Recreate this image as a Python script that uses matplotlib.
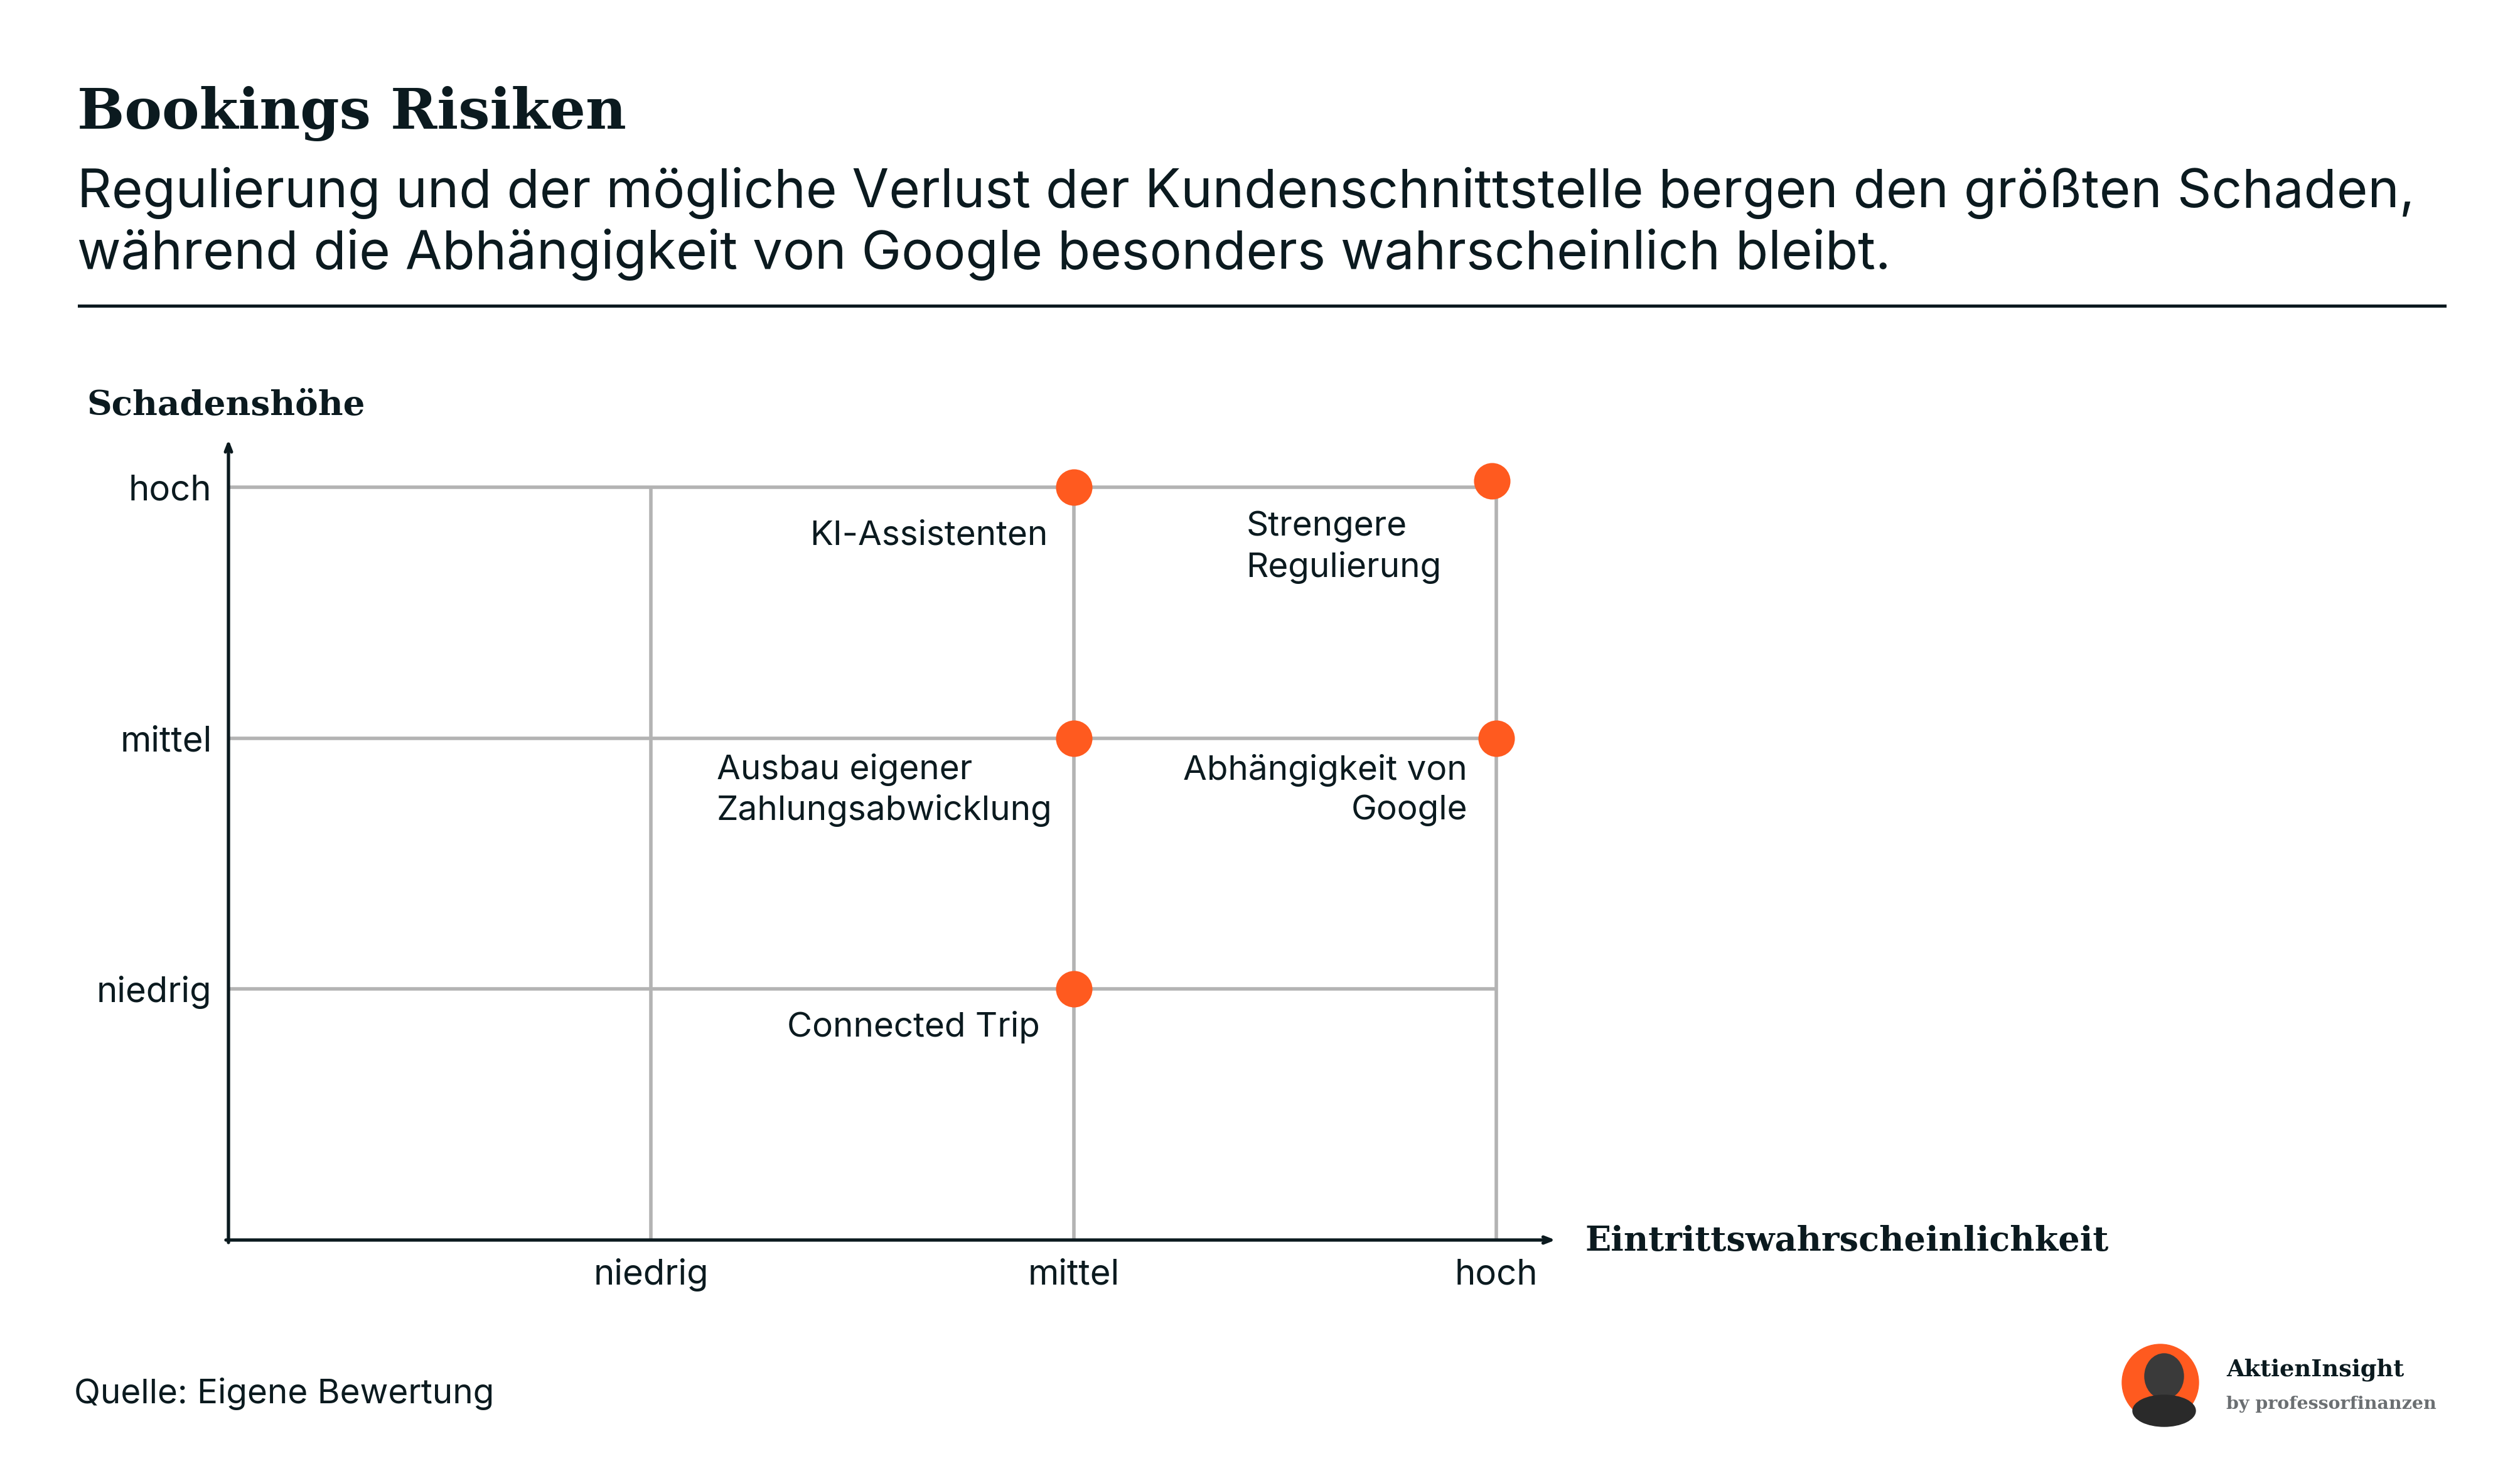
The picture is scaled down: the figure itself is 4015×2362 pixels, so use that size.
import matplotlib
matplotlib.use('Agg')
import matplotlib.pyplot as plt
from matplotlib.patches import Ellipse

# Daten
titel = 'Bookings Risiken'
untertitel = ['Regulierung und der mögliche Verlust der Kundenschnittstelle bergen den größten Schaden,',
              'während die Abhängigkeit von Google besonders wahrscheinlich bleibt.']
stufen = ['niedrig', 'mittel', 'hoch']
risiken = ['KI-Assistenten', 'Strengere\nRegulierung', 'Ausbau eigener\nZahlungsabwicklung',
           'Abhängigkeit von\nGoogle', 'Connected Trip']
wahrscheinlichkeit = [2, 2.99, 2, 3, 2]   # x: Eintrittswahrscheinlichkeit
schaden = [3, 3.025, 2, 2, 1]             # y: Schadenshöhe
quelle = 'Quelle: Eigene Bewertung'

# Farben / Schriften
TXT = '#0b1a1f'
GRAU = '#b3b3b3'
ORANGE = '#ff5a1f'
SANS = 'Inter'
SLAB = 'DejaVu Serif'

W, H = 4016, 2362
fig = plt.figure(figsize=(W / 100, H / 100), dpi=100)
fig.patch.set_facecolor('white')
renderer = fig.canvas.get_renderer()

def px(x, y):
    # Pixel (von oben links) -> Figurenkoordinaten
    return x / W, 1 - y / H

def auf_breite(t, breite):
    # Schriftgroesse so setzen, dass der Text die Breite im Original hat
    w = t.get_window_extent(renderer).width
    t.set_fontsize(t.get_fontsize() * breite / w)

# Kopf
t = fig.text(*px(123, 205), titel, family=SLAB, weight='bold', fontsize=64, color=TXT, va='baseline')
auf_breite(t, 876)
t1 = fig.text(*px(123, 330), untertitel[0], family=SANS, fontsize=58, color=TXT, va='baseline')
auf_breite(t1, 3724)
fig.text(*px(123, 428), untertitel[1], family=SANS, fontsize=t1.get_fontsize(), color=TXT, va='baseline')
fig.add_artist(plt.Line2D([126 / W, 3895 / W], [1 - 487 / H] * 2, color=TXT, lw=3.6))

# Achsen: 0..3 in beiden Richtungen
x0, x3 = 364, 2384
y0, y3 = 1975, 776
ax = fig.add_axes([x0 / W, 1 - y0 / H, (x3 - x0) / W, (y0 - y3) / H])
ax.set_xlim(0, 3)
ax.set_ylim(0, 3)
for s in ax.spines.values():
    s.set_visible(False)

lv = [1, 2, 3]
ax.hlines(lv, 0, 3, color=GRAU, lw=4, zorder=1, clip_on=False)
ax.vlines(lv, 0, 3, color=GRAU, lw=4, zorder=1, clip_on=False)

pfeil = dict(arrowstyle='->,head_length=0.9,head_width=0.35', color=TXT, lw=3.8,
             shrinkA=0, shrinkB=0)
ax.annotate('', xy=(3.14, 0), xytext=(-0.006, 0), annotation_clip=False, arrowprops=pfeil, zorder=3)
ax.annotate('', xy=(0, 3.19), xytext=(0, -0.01), annotation_clip=False, arrowprops=pfeil, zorder=3)

ax.set_xticks(lv)
ax.set_xticklabels(stufen)
ax.set_yticks(lv)
ax.set_yticklabels(stufen)
ax.tick_params(length=0, labelsize=40.5, labelcolor=TXT)
ax.tick_params(axis='y', pad=19)
ax.tick_params(axis='x', pad=21)
for lab in ax.get_xticklabels() + ax.get_yticklabels():
    lab.set_family(SANS)

fig.text(*px(138, 661), 'Schadenshöhe', family=SLAB, weight='bold', fontsize=39.5, color=TXT, va='baseline')
fig.text(*px(2525, 1977), 'Eintrittswahrscheinlichkeit', family=SLAB, weight='bold', fontsize=39,
         color=TXT, va='center')

# Punkte
ax.scatter(wahrscheinlichkeit, schaden, s=1750, color=ORANGE, zorder=5, clip_on=False, linewidths=0)

# Beschriftungen (Versatz in Pixeln zum Punkt)
versatz = [(-41, -77, 'right'), (-392, -106, 'left'), (-569, -83, 'left'),
           (-46, -83, 'right'), (-54, -61, 'right')]
for name, xv, yv, (dx, dy, ha) in zip(risiken, wahrscheinlichkeit, schaden, versatz):
    ax.annotate(name, (xv, yv), xytext=(dx, dy), textcoords='offset pixels', ha=ha, va='center',
                multialignment=ha, family=SANS, fontsize=39.5, color=TXT, linespacing=1.33,
                annotation_clip=False)

# Fuss
fig.text(*px(118, 2220), quelle, family=SANS, fontsize=39.5, color=TXT, va='center')

# Logo
lx, ly = px(3442, 2202)
fig.add_artist(Ellipse((lx, ly), 122 / W, 122 / H, color=ORANGE, transform=fig.transFigure))
fig.add_artist(Ellipse((lx + 6 / W, ly + 10 / H), 62 / W, 72 / H, color='#3a3a3a', transform=fig.transFigure))
fig.add_artist(Ellipse((lx + 6 / W, ly - 45 / H), 100 / W, 50 / H, color='#2a2a2a', transform=fig.transFigure))
fig.text(*px(3547, 2182), 'AktienInsight', family=SLAB, weight='bold', fontsize=26.5, color=TXT, va='center')
fig.text(*px(3547, 2236), 'by professorfinanzen', family=SLAB, weight='bold', fontsize=20.5,
         color='#6b6f72', va='center')

fig.savefig('out.png', dpi=100, facecolor='white')
